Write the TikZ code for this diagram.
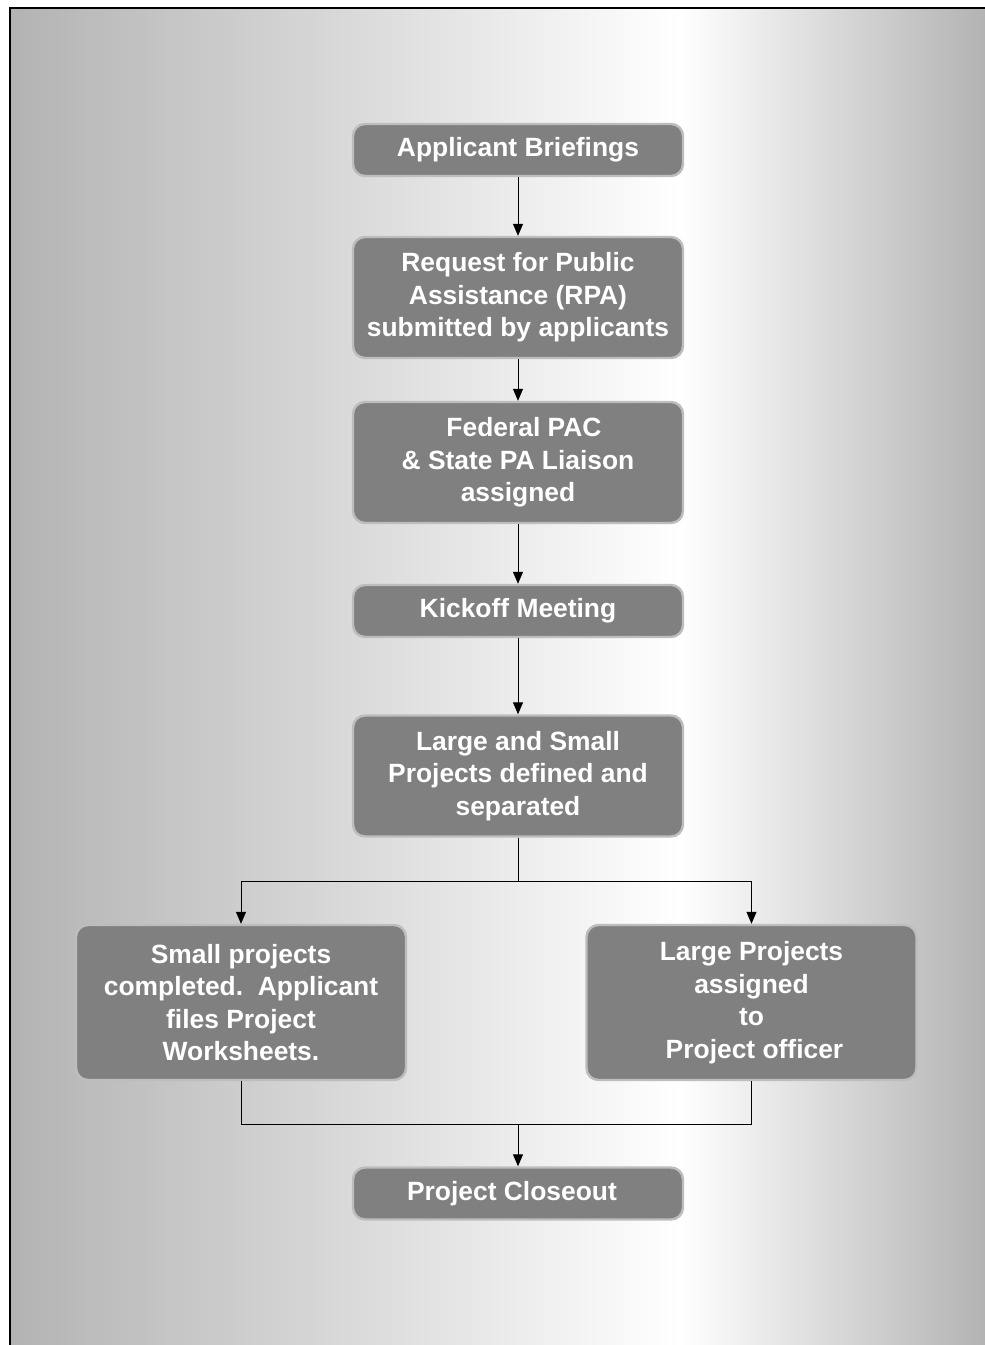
\documentclass[tikz,border=0pt]{standalone}
\usepackage{fontspec}
\setmainfont{Liberation Sans}
\usetikzlibrary{arrows.meta}

\definecolor{panelgray}{HTML}{B3B3B3}
\definecolor{boxgray}{HTML}{808080}
\definecolor{rimgray}{HTML}{BDBDBD}

\tikzset{
	stepbox/.style={rectangle, rounded corners=6pt, fill=boxgray, draw=rimgray,
		line width=1.2pt, text=white, align=center, inner sep=0pt,
		font=\bfseries\fontsize{13.2}{16.3}\selectfont, minimum width=165pt},
	flow/.style={-{Triangle[width=5pt,length=6pt]}, line width=0.5pt}
}

\begin{document}
\begin{tikzpicture}[x=0.5pt, y=-0.5pt]
	\useasboundingbox (0,0) rectangle (985,1345);
	% backdrop
	\shade[left color=panelgray, right color=white] (10,8) rectangle (680,1345);
	\shade[left color=white, right color=panelgray] (680,8) rectangle (985,1345);
	\draw[line width=1pt] (10,1345) -- (10,8) -- (985,8);

	\node[stepbox, minimum height=26pt] (brief) at (518,150) {Applicant Briefings};
	\node[stepbox, minimum height=60.5pt] (rpa) at (518,297.5) {Request for Public\\Assistance (RPA)\\submitted by applicants};
	\node[stepbox, minimum height=60.5pt] (liaison) at (518,462.5) {\hspace*{6pt}Federal PAC\\\& State PA Liaison\\assigned};
	\node[stepbox, minimum height=26pt] (kickoff) at (518,611) {Kickoff Meeting};
	\node[stepbox, minimum height=60.5pt] (define) at (518,776) {Large and Small\\Projects defined and\\separated};
	\node[stepbox, minimum height=77.5pt] (small) at (241,1002.5) {Small projects\\completed.\ \ Applicant\\files Project\\Worksheets.};
	\node[stepbox, minimum height=77.5pt] (large) at (751.5,1002.5) {Large Projects\\assigned\\to\\\hspace*{3pt}Project officer};
	\node[stepbox, minimum height=26pt] (closeout) at (518,1193.5) {Project Closeout\hspace*{6pt}};

	\draw[flow] (brief) -- (rpa);
	\draw[flow] (rpa) -- (liaison);
	\draw[flow] (liaison) -- (kickoff);
	\draw[flow] (kickoff) -- (define);

	\coordinate (split) at (518,881);
	\draw[line width=0.5pt] (define) -- (split);
	\draw[flow] (split) -| (small);
	\draw[flow] (split) -| (large);

	\coordinate (merge) at (518,1124);
	\draw[line width=0.5pt] (small) |- (merge);
	\draw[line width=0.5pt] (large) |- (merge);
	\draw[flow] (merge) -- (closeout);
\end{tikzpicture}
\end{document}
